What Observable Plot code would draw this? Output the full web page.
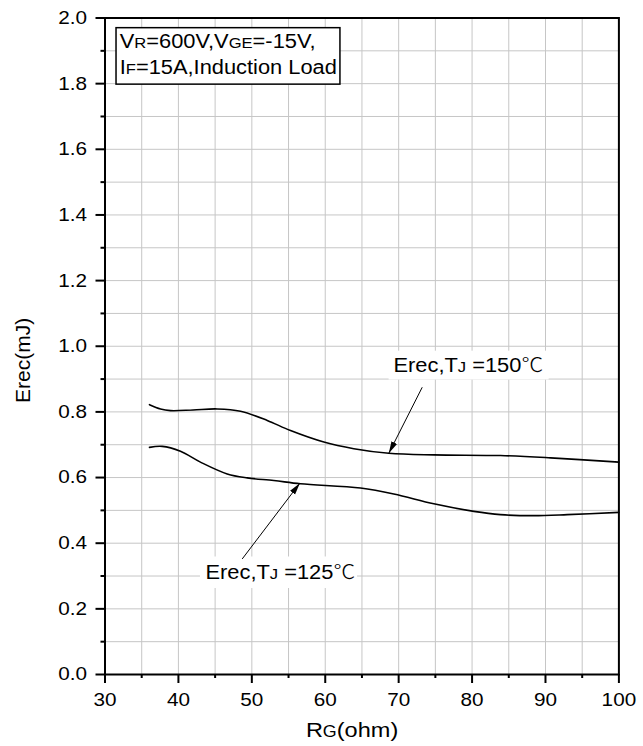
<!DOCTYPE html>
<html>
<head>
<meta charset="utf-8">
<script src="https://cdn.jsdelivr.net/npm/d3@7"></script>
<script src="https://cdn.jsdelivr.net/npm/@observablehq/plot@0.6"></script>
<style>
  html, body { margin: 0; padding: 0; background: #fff; overflow: hidden; width: 643px; height: 746px; }
  #chart { width: 643px; height: 746px; overflow: hidden; }
  #chart svg { display: block; }
</style>
</head>
<body>
<div id="chart"></div>
<script>
// ---- data ----
const rg150 = [36.06, 37.56, 38.92, 42.0, 45.28, 48.46, 52.1, 55.27, 59.81, 63.89, 68.66, 74.79, 83.88, 90.69, 99.99];
const erec150 = [0.822, 0.809, 0.804, 0.806, 0.809, 0.802, 0.774, 0.743, 0.708, 0.688, 0.674, 0.669, 0.667, 0.660, 0.647];

const rg125 = [36.06, 37.79, 40.28, 43.0, 46.65, 49.37, 52.99, 56.63, 64.80, 69.34, 74.79, 80.24, 83.88, 88.41, 92.96, 99.99];
const erec125 = [0.692, 0.695, 0.680, 0.647, 0.611, 0.599, 0.591, 0.581, 0.568, 0.550, 0.520, 0.497, 0.487, 0.484, 0.487, 0.494];

const xMajorTicks = [30, 40, 50, 60, 70, 80, 90, 100];
const xMinorTicks = [35, 45, 55, 65, 75, 85, 95];
const yMajorTicks = [0, 0.2, 0.4, 0.6, 0.8, 1.0, 1.2, 1.4, 1.6, 1.8, 2.0];
const yMinorTicks = [0.1, 0.3, 0.5, 0.7, 0.9, 1.1, 1.3, 1.5, 1.7, 1.9];
const xGridTicks = [35, 40, 45, 50, 55, 60, 65, 70, 75, 80, 85, 90, 95];
const yGridTicks = [0.1, 0.2, 0.3, 0.4, 0.5, 0.6, 0.7, 0.8, 0.9, 1.0, 1.1, 1.2, 1.3, 1.4, 1.5, 1.6, 1.7, 1.8, 1.9];

// annotations (data coordinates)
const curveLabels = ["Erec,T_{J} =150℃", "Erec,T_{J} =125℃"];
const curveLabelX = [69.3, 43.69];
const curveLabelY = [0.940, 0.311];
const labelBoxX1 = [68.7, 43.0];
const labelBoxX2 = [90.5, 64.4];
const labelBoxY1 = [0.897, 0.262];
const labelBoxY2 = [0.985, 0.358];
const arrowFromX = [73.21, 48.69];
const arrowFromY = [0.875, 0.352];
const arrowToX = [68.66, 56.54];
const arrowToY = [0.674, 0.583];

const conditionLines = ["V_{R}=600V,V_{GE}=-15V,", "I_{F}=15A,Induction Load"];
const conditionX = [32.0, 32.0];
const conditionY = [1.929, 1.848];
const conditionBox = {x1: 31.57, x2: 62.07, y1: 1.797, y2: 1.969};

const xTitle = "R_{G}(ohm)";
const yTitle = "Erec(mJ)";

// ---- build tables ----
const s150 = rg150.map((x, i) => ({x, y: erec150[i]}));
const s125 = rg125.map((x, i) => ({x, y: erec125[i]}));
const labels = curveLabels.map((t, i) => ({t, x: curveLabelX[i], y: curveLabelY[i]}));
const labelBoxes = labelBoxX1.map((x1, i) => ({x1, x2: labelBoxX2[i], y1: labelBoxY1[i], y2: labelBoxY2[i]}));
const arrows = arrowFromX.map((x1, i) => ({x1, y1: arrowFromY[i], x2: arrowToX[i], y2: arrowToY[i]}));
const conds = conditionLines.map((t, i) => ({t, x: conditionX[i], y: conditionY[i]}));

const font = "'Liberation Sans', Arial, Helvetica, sans-serif";
const gridStyle = {stroke: "#c6c6c6", strokeWidth: 1};

const chart = Plot.plot({
  width: 643,
  height: 746,
  marginLeft: 104.5,
  marginRight: 24.6,
  marginTop: 17.5,
  marginBottom: 72,
  style: {fontFamily: font, background: "#fff", color: "#000", overflow: "hidden"},
  x: {domain: [30, 100]},
  y: {domain: [0, 2]},
  marks: [
    Plot.ruleX(xGridTicks, {x: d => d, ...gridStyle}),
    Plot.ruleY(yGridTicks, {y: d => d, ...gridStyle}),
    Plot.line(s150, {x: "x", y: "y", curve: "catmull-rom", stroke: "#000", strokeWidth: 1.6}),
    Plot.line(s125, {x: "x", y: "y", curve: "catmull-rom", stroke: "#000", strokeWidth: 1.6}),
    Plot.rect(labelBoxes, {x1: "x1", x2: "x2", y1: "y1", y2: "y2", fill: "#fff"}),
    Plot.link(arrows, {x1: "x1", y1: "y1", x2: "x2", y2: "y2", stroke: "#000", strokeWidth: 1, markerEnd: "arrow"}),
    Plot.text(labels, {x: "x", y: "y", text: "t", textAnchor: "start", lineAnchor: "middle", fontSize: 19.5, fill: "#000"}),
    Plot.rect([conditionBox], {x1: "x1", x2: "x2", y1: "y1", y2: "y2", fill: "#fff", stroke: "#000", strokeWidth: 1.5}),
    Plot.text(conds, {x: "x", y: "y", text: "t", textAnchor: "start", lineAnchor: "middle", fontSize: 19.5, fill: "#000"}),
    Plot.axisX(xMajorTicks, {tickSize: 9, tickPadding: 9, strokeWidth: 2, fontSize: 18.5, tickFormat: d => String(d), label: null}),
    Plot.axisX(xMinorTicks, {tickSize: 4, strokeWidth: 2, text: null, label: null}),
    Plot.axisY(yMajorTicks, {tickSize: 9, tickPadding: 9, strokeWidth: 2, fontSize: 18.5, tickFormat: d3.format(".1f"), label: null}),
    Plot.axisY(yMinorTicks, {tickSize: 4, strokeWidth: 2, text: null, label: null}),
    Plot.frame({stroke: "#000", strokeWidth: 2}),
    Plot.text([xTitle], {x: 63.65, frameAnchor: "bottom", dy: 56, text: d => d, textAnchor: "middle", lineAnchor: "middle", fontSize: 21, fill: "#000"}),
    Plot.text([yTitle], {y: 0.957, frameAnchor: "left", dx: -82, rotate: -90, text: d => d, textAnchor: "middle", lineAnchor: "middle", fontSize: 21, fill: "#000"})
  ]
});

document.getElementById("chart").appendChild(chart);

// ---- post-processing ----
const SVGNS = "http://www.w3.org/2000/svg";
// small same-baseline subscripts and the ℃ glyph
chart.querySelectorAll("text").forEach(t => {
  const s = t.textContent;
  if (!/_\{|℃/.test(s)) return;
  t.textContent = "";
  const re = /_\{([^}]*)\}|(℃)/g;
  let last = 0, m;
  const add = (txt, attrs) => {
    const ts = document.createElementNS(SVGNS, "tspan");
    ts.textContent = txt;
    for (const k in attrs) ts.setAttribute(k, attrs[k]);
    t.appendChild(ts);
  };
  while ((m = re.exec(s))) {
    if (m.index > last) add(s.slice(last, m.index), {});
    if (m[1] !== undefined) add(m[1], {"font-size": "76%"});
    else add(m[2], {"font-family": "'Noto Sans CJK SC', 'DejaVu Sans', sans-serif", "font-weight": "300"});
    last = re.lastIndex;
  }
  if (last < s.length) add(s.slice(last), {});
});
// the reference lettering is slightly wide: stretch horizontal text glyphs
chart.querySelectorAll("text").forEach(t => {
  const tr = t.getAttribute("transform") || "";
  if (/rotate/.test(tr)) return;
  const L = t.getComputedTextLength();
  if (L > 0) {
    t.setAttribute("textLength", (L * 1.12).toFixed(2));
    t.setAttribute("lengthAdjust", "spacingAndGlyphs");
  }
});
// filled arrow heads
chart.querySelectorAll("marker").forEach(mk => {
  mk.setAttribute("markerWidth", 24);
  mk.setAttribute("markerHeight", 24);
  const p = mk.querySelector("path");
  if (p) {
    p.setAttribute("d", "M-5,-1.3L0,0L-5,1.3Z");
    p.setAttribute("fill", "#000");
    p.setAttribute("stroke", "none");
  }
});
</script>
</body>
</html>
